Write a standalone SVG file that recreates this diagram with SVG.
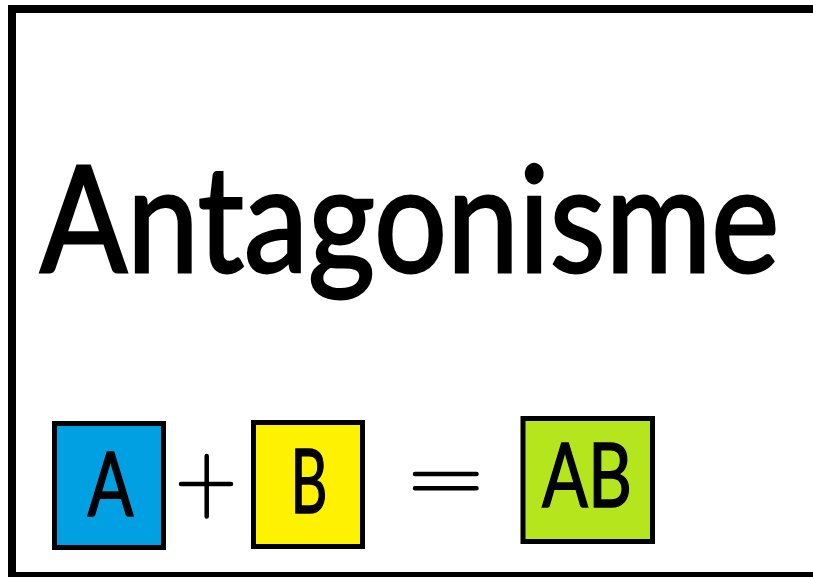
<svg xmlns="http://www.w3.org/2000/svg" width="813" height="577" viewBox="0 0 813 577">
<style>
.t{font-family:Lato,"Open Sans","DejaVu Sans",sans-serif;fill:#000;stroke:#000;stroke-width:1.5}
.box{stroke:#000;stroke-width:5}
.op{stroke:#000;stroke-width:4.5;stroke-linecap:round;fill:none}
</style>
<rect x="0" y="0" width="813" height="577" fill="#fff"/>
<g id="frame"><rect x="12" y="9" width="812" height="567" fill="none" stroke="#000" stroke-width="8"/></g>
<g id="title"><text class="t" x="0" y="0" font-size="148" transform="translate(40 272) scale(0.87 1)" style="stroke-width:2.8">Antagonisme</text></g>
<g id="nodeA"><rect class="box" x="54.5" y="423.5" width="109" height="124" fill="#00A0E3"/><text class="t" x="110.5" y="516" font-size="89" text-anchor="middle" textLength="46" lengthAdjust="spacingAndGlyphs">A</text></g>
<g id="nodeB"><rect class="box" x="253.5" y="422.5" width="109" height="124" fill="#FFF200"/><text class="t" x="309" y="513" font-size="89" text-anchor="middle" textLength="37" lengthAdjust="spacingAndGlyphs">B</text></g>
<g id="nodeAB"><rect class="box" x="523" y="418.5" width="129.5" height="123" fill="#B5E61D"/><text class="t" x="587" y="507" font-size="89" text-anchor="middle" textLength="90" lengthAdjust="spacingAndGlyphs">AB</text></g>
<g id="connectors">
<path class="op" d="M181 484H231M206.7 456V516.5"/>
<path class="op" d="M415 474H476.5M415 488.3H476.5"/>
</g>
</svg>
